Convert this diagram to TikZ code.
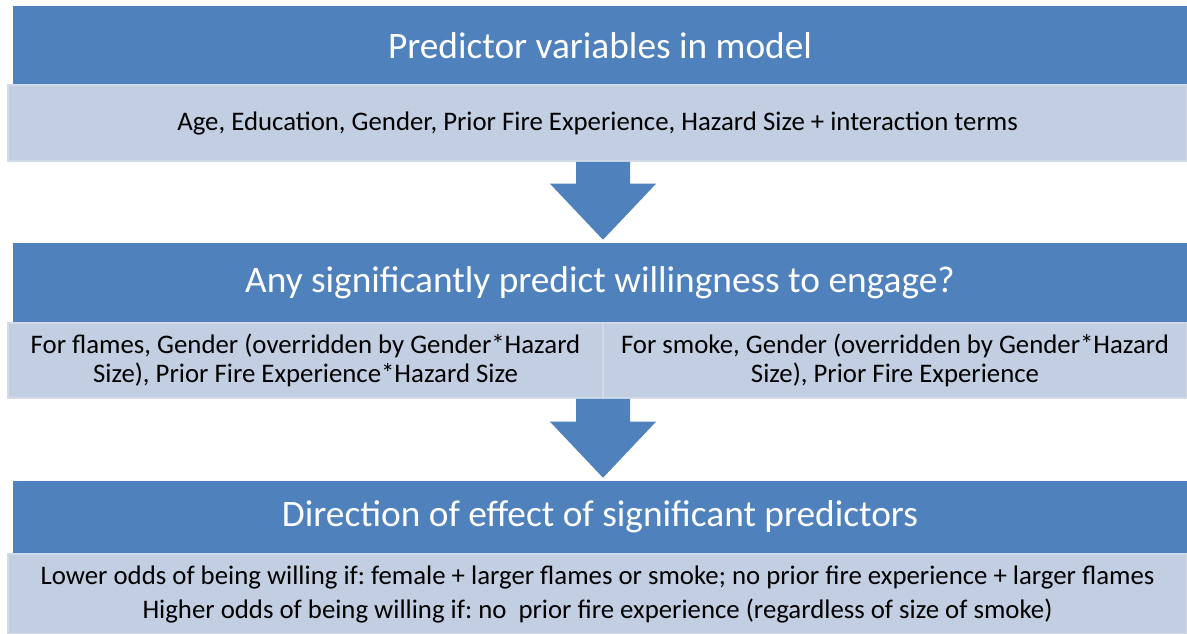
\documentclass[tikz,border=0pt]{standalone}
\usepackage{fontspec}
\setmainfont{Carlito}
\usetikzlibrary{calc}
\frenchspacing
\def\px{0.75pt}
\definecolor{headblue}{RGB}{79,129,189}
\definecolor{boxblue}{RGB}{194,206,225}
\definecolor{boxedge}{RGB}{210,219,234}
\begin{document}
\begin{tikzpicture}[x=0.75pt,y=0.75pt,yscale=-1,xscale=1,
  headbar/.style={fill=headblue,text=white,font=\fontsize{28}{32}\selectfont,inner sep=0pt,minimum width=1174*\px},
  itembox/.style={fill=boxblue,draw=boxedge,line width=1.2pt,text=black,font=\fontsize{20.1}{22}\selectfont,align=center,inner sep=0pt},
  blockarrow/.style={fill=headblue}]
\useasboundingbox (0,0) rectangle (1187,633);

% Header Nodes
\node [headbar,minimum height=79*\px] (predhead) at (600,45.5) {Predictor variables in model};
\node [headbar,minimum height=80*\px] (sighead) at (600,283) {Any significantly predict willingness to engage?};
\node [headbar,minimum height=72*\px] (dirhead) at (600,517) {Direction of effect of significant predictors};

% Text Boxes
\node [itembox,minimum width=1179*\px,minimum height=76*\px] (predbox) at (597.5,123) {Age, Education, Gender, Prior Fire Experience, Hazard Size + interaction terms};
\node [itembox,minimum width=595*\px,minimum height=75*\px] (flamebox) at (305.5,360.5) {For flames, Gender (overridden by Gender*Hazard\\Size), Prior Fire Experience*Hazard Size};
\node [itembox,minimum width=584*\px,minimum height=75*\px] (smokebox) at (895,360.5) {For smoke, Gender (overridden by Gender*Hazard\\Size), Prior Fire Experience};
\node [itembox,minimum width=1179*\px,minimum height=80*\px,font=\fontsize{20.1}{25.5}\selectfont] (dirbox) at (597.5,594) {Lower odds of being willing if: female + larger flames or smoke; no prior fire experience + larger flames\\Higher odds of being willing if: no\ \ prior fire experience (regardless of size of smoke)};

% Block Arrows
\coordinate (tipa) at ($(sighead.north)+(3,-3)$);
\coordinate (tipb) at ($(dirhead.north)+(3,-3)$);
\fill [blockarrow] ($(predbox.south -| tipa)+(-27,0)$) |- ($(tipa)+(-53,-56)$) -- (tipa) -- ($(tipa)+(53,-56)$) -| ($(predbox.south -| tipa)+(27,0)$) -- cycle;
\fill [blockarrow] ($(flamebox.south -| tipb)+(-27,0)$) |- ($(tipb)+(-53,-56)$) -- (tipb) -- ($(tipb)+(53,-56)$) -| ($(flamebox.south -| tipb)+(27,0)$) -- cycle;

\end{tikzpicture}
\end{document}
